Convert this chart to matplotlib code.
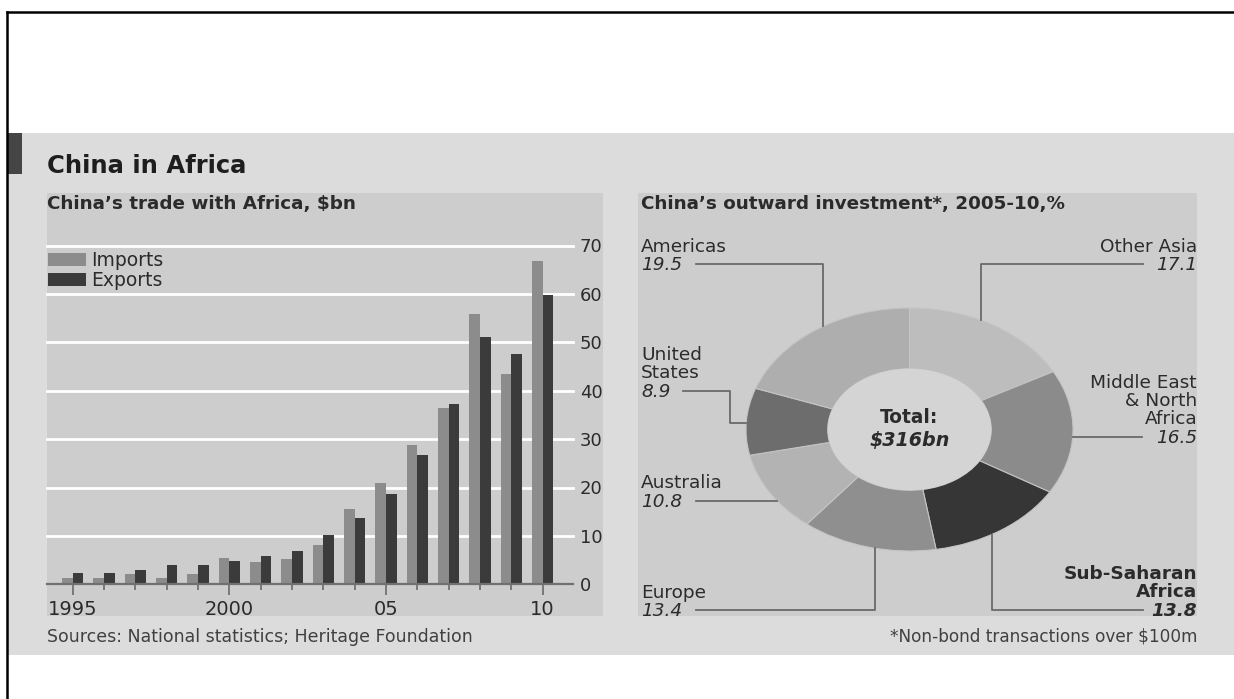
import numpy as np
import matplotlib
matplotlib.use('Agg')
import matplotlib.pyplot as plt
from matplotlib.patches import Rectangle, Ellipse
from matplotlib.lines import Line2D

plt.rcParams['font.family'] = ['DejaVu Sans']

# China's trade with Africa, $bn
years = list(range(1995, 2011))
imports = [1.2, 1.2, 2.2, 1.3, 2.2, 5.5, 4.7, 5.3, 8.2, 15.5, 21.0, 28.8, 36.4, 55.8, 43.4, 66.8]
exports = [2.3, 2.4, 3.0, 3.9, 4.0, 4.9, 5.9, 6.9, 10.1, 13.8, 18.6, 26.7, 37.3, 51.1, 47.6, 59.8]
xtick_years = [1995, 2000, 2005, 2010]
xtick_labels = ['1995', '2000', '05', '10']

# China's outward investment 2005-10, % (clockwise from top)
regions = ['Other Asia', 'Middle East\n& North\nAfrica', 'Sub-Saharan\nAfrica',
           'Europe', 'Australia', 'United\nStates', 'Americas']
shares = [17.1, 16.5, 13.8, 13.4, 10.8, 8.9, 19.5]
total_label = '$316bn'

W, H = 1234, 699
TXT = '#2b2b2b'
LEAD = '#6a6a6a'
LBL = 13.3


def rect(x0, y0, x1, y1):
    # pixel box (top-left origin) -> figure fraction
    return [x0 / W, 1 - y1 / H, (x1 - x0) / W, (y1 - y0) / H]


fig = plt.figure(figsize=(W / 100, H / 100), dpi=100)
fig.patch.set_facecolor('white')

# background panels
bg = fig.add_axes([0, 0, 1, 1], zorder=0)
bg.set_xlim(0, W)
bg.set_ylim(H, 0)
bg.axis('off')
bg.add_patch(Rectangle((8, 133), W - 8, 522, color='#dcdcdc', lw=0))
bg.add_patch(Rectangle((8, 133), 14, 41, color='#454545', lw=0))
bg.add_patch(Rectangle((47, 193), 556, 423, color='#cdcdcd', lw=0))
bg.add_patch(Rectangle((638, 193), 559, 423, color='#cdcdcd', lw=0))
bg.add_line(Line2D([7, W], [12, 12], color='black', lw=1.8))
bg.add_line(Line2D([7, 7], [12, H], color='black', lw=1.8))

# ---- bar chart ----
ax = fig.add_axes(rect(47, 245.5, 573, 584.3), zorder=1)
ax.patch.set_alpha(0)
yrs = np.array(years)
bw = 0.34
b1 = ax.bar(yrs - bw / 2, imports, width=bw, color='#8c8c8c', zorder=2)
b2 = ax.bar(yrs + bw / 2, exports, width=bw, color='#3b3b3b', zorder=2)
for v in range(10, 80, 10):
    ax.axhline(v, color='white', lw=2, zorder=0.5, clip_on=False)
ax.set_xlim(1994.18, 2010.97)
ax.set_ylim(0, 70)
for s in ['top', 'left', 'right']:
    ax.spines[s].set_visible(False)
ax.spines['bottom'].set_color('#707070')
ax.spines['bottom'].set_linewidth(1.6)
ax.spines['bottom'].set_zorder(3)
ax.set_xticks(xtick_years)
ax.set_xticklabels(xtick_labels)
ax.set_xticks(years, minor=True)
ax.tick_params(axis='x', which='major', length=8, width=1.2, color='#6a6a6a',
               labelsize=14, labelcolor=TXT, pad=3)
ax.tick_params(axis='x', which='minor', length=4.5, width=1.2, color='#6a6a6a')
ax.yaxis.tick_right()
ax.set_yticks(range(0, 80, 10))
ax.tick_params(axis='y', length=0, pad=5, labelsize=13, labelcolor=TXT)
ax.legend([b1, b2], ['Imports', 'Exports'], loc='upper left',
          bbox_to_anchor=(48 / W, 1 - 251 / H), bbox_transform=fig.transFigure,
          frameon=False, fontsize=13.5, handlelength=2.0, handleheight=0.75,
          handletextpad=0.3, labelspacing=0.05, borderpad=0, borderaxespad=0,
          labelcolor=TXT)

# ---- donut ----
cx, cy, rx, ry = 909.5, 429.5, 163.5, 121.5
pax = fig.add_axes(rect(cx - rx, cy - ry, cx + rx, cy + ry), zorder=1)
colors = ['#bdbdbd', '#8b8b8b', '#363636', '#8f8f8f', '#b3b3b3', '#6d6d6d', '#aeaeae']
pax.pie(shares, colors=colors, startangle=90, counterclock=False, radius=1,
        wedgeprops=dict(width=0.5, edgecolor='#c4c4c4', linewidth=0.8))
pax.set_aspect('auto')
pax.set_xlim(-1, 1)
pax.set_ylim(-1, 1)
pax.add_patch(Ellipse((0, 0), 1.0, 1.0, color='#d4d4d4', lw=0))
pax.text(0, 0.095, 'Total:', ha='center', va='center', fontsize=13.4,
         fontweight='bold', color=TXT)
pax.text(0, -0.09, total_label, ha='center', va='center', fontsize=13.8,
         fontweight='bold', style='italic', color=TXT)

# ---- overlay text and leaders ----
ov = fig.add_axes([0, 0, 1, 1], zorder=3)
ov.set_xlim(0, W)
ov.set_ylim(H, 0)
ov.axis('off')


def edge_y(x, sign):
    return cy + sign * ry * np.sqrt(max(0.0, 1 - ((x - cx) / rx) ** 2))


def edge_x(y, sign):
    return cx + sign * rx * np.sqrt(max(0.0, 1 - ((y - cy) / ry) ** 2))


ov.text(47, 173, 'China in Africa', fontsize=17.5, fontweight='bold', color='#1e1e1e')
ov.text(47, 208.5, 'China\u2019s trade with Africa, $bn', fontsize=13.2,
        fontweight='bold', color=TXT)
ov.text(641, 208.5, 'China\u2019s outward investment*, 2005-10,%', fontsize=13.2,
        fontweight='bold', color=TXT)
ov.text(47, 642, 'Sources: National statistics; Heritage Foundation', fontsize=12.5,
        color='#404040')
ov.text(1197, 642, '*Non-bond transactions over $100m', fontsize=12.2,
        color='#404040', ha='right')

# label layout: x, align, baseline of number line, leader kind, leader params
layout = {
    'Other Asia': (1197, 'right', 270, 'v', (1143, 980.5, -1)),
    'Middle East\n& North\nAfrica': (1197, 'right', 442.7, 'h', (1142, +1)),
    'Sub-Saharan\nAfrica': (1197, 'right', 615.7, 'v', (1143, 991.7, +1)),
    'Europe': (641, 'left', 616, 'v', (696, 875, +1)),
    'Australia': (641, 'left', 506.7, 'h', (696, -1)),
    'United\nStates': (641, 'left', 396.7, 'us', (682.6, 729.6, 422.7)),
    'Americas': (641, 'left', 270, 'v', (696, 823.3, -1)),
}
lh = 18.3
for name, val in zip(regions, shares):
    x, ha, yb, kind, p = layout[name]
    lines = name.split('\n')
    bold = name.startswith('Sub')
    for i, ln in enumerate(lines):
        ov.text(x, yb - lh * (len(lines) - i), ln, ha=ha, fontsize=LBL,
                color=TXT, fontweight='bold' if bold else 'normal')
    ov.text(x, yb, f'{val}', ha=ha, fontsize=LBL, style='italic', color=TXT,
            fontweight='bold' if bold else 'normal')
    yl = yb - 6
    if kind == 'v':
        xs, xv, sgn = p
        pts = [(xs, yl), (xv, yl), (xv, edge_y(xv, sgn))]
    elif kind == 'h':
        xs, sgn = p
        pts = [(xs, yl), (edge_x(yl, sgn), yl)]
    else:
        xs, xe, ye = p
        pts = [(xs, yl), (xe, yl), (xe, ye), (edge_x(ye, -1), ye)]
    px, py = zip(*pts)
    ov.add_line(Line2D(px, py, color=LEAD, lw=1.3))

fig.savefig('out.png', dpi=100, facecolor='white')
